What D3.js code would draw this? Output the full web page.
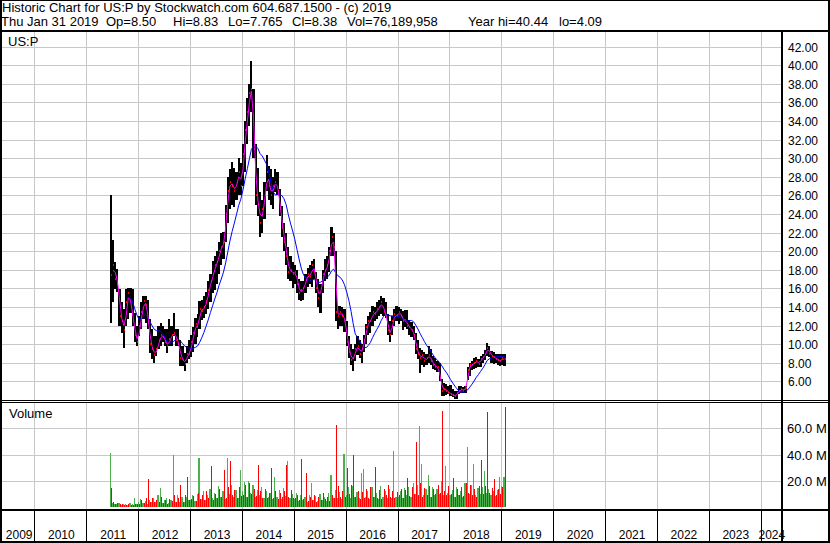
<!DOCTYPE html>
<html><head><meta charset="utf-8">
<script src="https://cdn.jsdelivr.net/npm/d3@7"></script>
<style>
html,body{margin:0;padding:0;background:#fff;}
svg{display:block;}
text{font-family:"Liberation Sans",Arial,sans-serif;fill:#000;}
</style></head><body>
<svg id="c" width="830" height="543"></svg>
<script>
// ---------- DATA (half-month periods starting 2011-06-16) ----------
const firstPeriod = "2011-06-16";
const highs = [
 26.0,21.2,18.8,18.1,15.9,14.5,13.8,15.9,16.1,16.1,15.9,13.4,12.0,
 13.0,14.5,15.2,15.2,14.8,12.7,11.6,10.9,10.9,12.0,12.3,12.0,11.6,11.6,12.7,12.0,13.4,11.6,11.6,10.5,9.8,9.1,9.8,10.5,
 11.0,11.8,12.8,13.2,14.6,14.8,15.2,15.6,16.8,17.6,19.0,19.5,20.0,21.0,22.0,22.1,25.0,28.0,28.8,29.6,29.0,28.5,30.0,29.5,
 31.5,34.0,36.5,38.0,40.44,37.5,31.5,29.0,26.4,25.5,27.4,30.3,29.2,28.9,28.0,28.9,28.5,26.7,24.9,23.0,22.0,20.5,19.5,18.8,
 18.5,18.0,17.0,16.8,16.8,17.5,18.2,18.5,19.0,19.2,17.8,17.0,16.5,18.0,19.2,19.5,20.5,22.6,22.0,20.0,14.1,14.1,14.0,13.8,
 12.5,10.9,10.0,9.5,10.0,10.9,10.5,10.0,11.0,12.2,13.0,13.5,14.1,14.0,14.5,14.8,15.2,15.0,14.5,13.2,12.5,13.0,13.8,14.1,
 14.0,13.8,13.6,13.7,13.7,12.6,12.4,12.0,11.2,10.5,9.6,9.4,9.2,9.0,9.8,9.5,8.7,8.5,8.2,8.0,6.3,5.8,5.7,5.5,
 5.6,5.2,5.0,5.0,5.5,5.5,5.4,5.5,7.5,8.0,8.2,8.5,8.6,8.4,8.7,9.0,9.4,10.1,9.8,9.3,9.2,9.0,9.0,8.9,
 8.9,8.9];
const lows = [
 12.3,14.5,15.9,15.6,12.0,11.2,9.6,12.0,12.7,13.4,12.0,10.2,9.8,
 10.9,11.6,12.7,12.3,11.6,9.1,8.4,8.0,8.7,9.5,9.8,10.2,9.8,9.1,9.8,9.8,10.9,9.8,9.8,7.7,7.7,7.1,8.0,8.4,
 8.6,9.2,10.0,10.8,11.6,12.6,12.8,13.2,13.8,14.5,15.5,15.8,16.5,17.5,18.5,19.2,21.0,23.0,24.5,25.0,24.8,25.5,26.0,26.0,
 27.0,28.5,31.5,33.5,35.0,30.0,25.0,23.8,21.5,22.0,23.5,26.5,25.5,25.0,24.5,26.4,26.0,23.8,21.5,20.0,18.5,17.0,16.8,16.0,
 16.5,15.5,14.8,14.7,14.8,15.5,16.2,16.5,16.2,17.0,15.5,14.0,13.4,15.5,16.8,17.0,17.8,19.5,19.5,12.5,11.6,12.0,12.0,11.3,
 9.8,8.5,7.8,7.1,8.2,8.8,8.5,8.0,9.2,10.0,11.0,11.2,12.0,12.5,12.7,13.0,13.2,13.0,12.8,11.0,10.2,11.0,12.0,12.5,
 12.2,12.5,11.5,11.8,11.6,11.0,10.8,10.5,9.0,8.4,6.9,7.8,7.6,7.8,8.0,7.8,7.3,7.2,7.0,6.0,4.4,4.4,4.5,4.6,
 4.4,4.3,4.1,4.1,4.6,4.7,4.7,4.8,6.2,6.6,7.2,7.3,7.4,7.5,7.6,8.0,8.3,8.7,8.6,8.0,7.9,8.0,7.8,7.7,
 7.8,7.7];
const closes = [
 17.4,18.5,17.0,16.5,13.0,12.5,11.5,14.5,15.5,14.0,12.5,11.0,10.2,
 12.0,13.5,14.6,14.2,12.3,10.0,9.5,8.8,9.5,10.4,11.0,10.8,10.2,9.8,10.6,11.0,11.2,10.5,10.0,8.5,8.3,7.9,9.0,8.9,
 10.2,11.2,12.2,11.8,13.8,13.6,14.0,14.6,15.8,16.8,17.5,18.5,18.8,20.0,20.5,21.0,24.0,26.5,27.5,27.0,26.5,27.5,28.5,27.0,
 30.5,33.0,35.0,37.0,37.5,31.0,26.0,25.0,23.0,24.5,26.0,28.5,27.0,26.0,27.0,27.5,26.5,24.5,22.5,21.0,19.5,17.8,18.0,17.5,
 17.8,16.5,15.5,15.8,16.0,17.0,17.5,17.2,18.5,17.8,16.0,15.0,16.0,17.5,18.0,18.5,20.0,21.5,20.5,13.5,13.0,13.5,13.0,12.5,
 10.2,9.2,8.3,8.5,9.5,9.8,9.0,9.5,10.5,11.8,12.5,12.5,13.5,13.2,13.8,14.0,14.5,13.5,13.0,11.5,11.0,12.5,13.2,13.0,
 13.5,13.0,12.5,12.6,12.0,11.8,11.5,11.0,9.5,9.0,8.5,8.8,8.2,8.5,8.8,8.2,7.8,7.6,7.5,6.3,5.0,5.2,5.0,4.8,
 4.6,4.5,4.4,4.8,5.0,5.2,5.0,5.3,7.2,7.8,7.8,8.0,8.2,7.9,8.4,8.6,9.0,9.6,9.0,8.7,8.6,8.4,8.3,8.2,
 8.5,8.38];
// largest daily volume (millions) among up days / down days of each period
const volUp = [
 41.5,3.0,2.5,2.0,2.8,1.8,2.0,2.5,1.5,3.0,2.5,7.0,2.2,
 3.5,6.0,3.0,4.5,2.5,5.5,3.8,7.0,4.0,9.0,14.5,3.0,5.0,6.5,2.8,5.5,40.0,4.0,9.5,3.5,7.5,4.0,8.0,5.0,
 5.0,9.5,4.5,10.0,37.5,6.0,12.0,5.5,9.0,14.0,6.5,11.0,7.0,16.0,8.0,12.5,6.0,37.5,10.0,17.0,7.5,13.0,6.5,28.0,
 12.0,19.0,8.0,20.0,11.0,17.0,7.5,13.0,9.0,15.0,6.5,12.0,8.0,11.0,6.0,23.0,7.5,13.0,6.0,14.5,8.5,35.0,7.0,10.0,
 6.0,10.5,4.5,9.0,5.0,8.0,4.0,9.5,18.7,5.0,8.5,4.5,10.0,5.5,8.0,4.5,11.0,24.5,6.5,13.0,7.0,11.5,6.0,40.7,
 9.0,15.0,7.0,16.0,8.0,11.5,6.5,26.0,29.0,8.0,12.5,6.0,15.0,7.5,11.0,6.0,16.0,8.0,12.0,7.0,13.5,6.5,43.0,8.0,
 8.0,12.0,7.0,14.5,9.0,15.0,7.5,18.0,10.0,17.0,62.0,33.0,9.0,14.0,24.5,8.0,15.5,9.0,14.0,10.0,20.0,9.5,31.0,11.0,
 9.0,13.0,8.0,15.5,9.5,12.5,8.0,18.0,46.0,10.0,17.0,33.0,9.0,14.5,10.0,15.0,27.5,11.0,14.0,9.0,12.0,8.5,13.0,23.0,
 16.0,23.0];
const volDown = [
 14.5,3.5,2.0,2.8,2.2,2.5,1.5,1.8,2.0,1.6,1.5,2.4,2.0,
 2.5,5.0,3.0,6.5,21.5,4.0,7.0,3.5,5.5,4.0,7.5,3.0,5.0,2.5,6.0,4.5,9.0,3.5,7.0,16.5,4.0,9.5,23.0,5.5,
 6.0,8.5,4.5,11.0,6.0,9.5,5.0,12.5,7.0,31.0,5.5,10.0,6.5,14.0,8.0,28.0,7.0,15.5,35.0,9.0,13.0,6.5,15.0,8.5,
 9.0,16.5,7.5,18.0,10.0,14.0,8.5,32.0,12.0,7.0,13.5,6.5,11.0,30.0,7.0,12.5,6.0,10.5,7.5,12.0,32.0,8.0,13.0,6.5,
 7.0,9.5,5.0,36.5,6.0,25.7,4.5,8.0,5.5,9.0,4.0,7.5,5.0,10.5,6.0,8.0,4.5,9.5,7.0,62.7,16.0,8.0,12.5,7.5,
 29.5,10.0,16.5,39.5,8.0,12.5,6.0,11.5,7.0,13.5,6.5,15.0,8.0,30.7,7.0,13.0,6.0,14.0,9.0,17.0,7.5,12.5,6.5,11.5,
 9.0,13.5,7.0,13.0,22.0,8.5,15.5,10.0,49.5,9.0,18.0,8.0,14.5,9.5,16.0,8.0,13.5,10.0,16.5,11.0,73.0,12.0,9.0,16.0,
 10.0,22.5,8.0,13.5,9.0,15.0,8.5,18.0,11.0,16.5,9.0,14.0,8.0,16.0,36.0,10.0,16.0,72.5,11.0,14.5,21.5,9.5,14.0,10.0,
 15.5,76.2];
const priceTicks = [6,8,10,12,14,16,18,20,22,24,26,28,30,32,34,36,38,40,42];
const volTicks = [20,40,60];
const yearLabels = [2009,2010,2011,2012,2013,2014,2015,2016,2017,2018,2019,2020,2021,2022,2023,2024];
const titleLine = "Historic Chart for US:P by Stockwatch.com 604.687.1500 - (c) 2019";
const quoteParts = ["Thu Jan 31 2019","Op=8.50","Hi=8.83","Lo=7.765","Cl=8.38","Vol=76,189,958","Year hi=40.44","lo=4.09"];
const quoteX = [1,106,173,228,292,347,468,559];
const symbol = "US:P";
const lastDay = "2019-01-31";
const shortMA = 2;   // periods (about 20 trading days)
const longMA = 10;   // periods (about 100 trading days)

// ---------- LAYOUT ----------
const W = 830, H = 543;
const plotL = 2, plotR = 781;
const priceTop = 32, priceBot = 400;
const volTop = 403, volBot = 509;
const axisTop = 511, axisBot = 541;

const svg = d3.select("#c");
const parse = d3.timeParse("%Y-%m-%d");

const x = d3.scaleTime().domain([new Date(2010,0,1), new Date(2024,0,1)]).range([34.4, 760.7]);
const yP = d3.scaleLinear().domain([4, 43.69]).range([400, 31]);
const yV = d3.scaleLinear().domain([0, 80.2]).range([507, 402]);

// periods
const p0 = parse(firstPeriod);
const starts = highs.map((_, i) => {
  const m = Math.floor((i + 1) / 2);
  return (i % 2 === 0) ? new Date(p0.getFullYear(), p0.getMonth() + m, 16)
                       : new Date(p0.getFullYear(), p0.getMonth() + m, 1);
});
const ends = starts.map((d, i) => i < starts.length - 1 ? starts[i + 1] : d3.timeDay.offset(parse(lastDay), 1));
const data = highs.map((h, i) => ({
  s: starts[i], e: ends[i], h, l: lows[i], c: closes[i], vu: volUp[i], vd: volDown[i]
}));

svg.append("rect").attr("width", W).attr("height", H).attr("fill", "#fff");

const defs = svg.append("defs");
defs.append("clipPath").attr("id", "cp").append("rect")
  .attr("x", plotL).attr("y", priceTop).attr("width", plotR - plotL).attr("height", priceBot - priceTop);
defs.append("clipPath").attr("id", "cv").append("rect")
  .attr("x", plotL).attr("y", volTop).attr("width", plotR - plotL).attr("height", volBot - volTop);

const grid = "#c8c8c8";
const years = d3.timeYear.range(new Date(2010,0,1), new Date(2024,0,2));

// price grid
const gp = svg.append("g").attr("clip-path", "url(#cp)").attr("shape-rendering", "crispEdges");
gp.selectAll("line.h").data(priceTicks).join("line")
  .attr("x1", plotL).attr("x2", plotR)
  .attr("y1", d => Math.round(yP(d)) + 0.5).attr("y2", d => Math.round(yP(d)) + 0.5)
  .attr("stroke", grid);
gp.selectAll("line.v").data(years).join("line")
  .attr("x1", d => Math.round(x(d)) + 0.5).attr("x2", d => Math.round(x(d)) + 0.5)
  .attr("y1", priceTop).attr("y2", priceBot).attr("stroke", grid);

// volume grid
const gv = svg.append("g").attr("clip-path", "url(#cv)").attr("shape-rendering", "crispEdges");
gv.selectAll("line.h").data(volTicks).join("line")
  .attr("x1", plotL).attr("x2", plotR)
  .attr("y1", d => Math.round(yV(d)) + 0.5).attr("y2", d => Math.round(yV(d)) + 0.5)
  .attr("stroke", grid);
gv.selectAll("line.v").data(years).join("line")
  .attr("x1", d => Math.round(x(d)) + 0.5).attr("x2", d => Math.round(x(d)) + 0.5)
  .attr("y1", volTop).attr("y2", volBot).attr("stroke", grid);

// price bars
const bars = svg.append("g").attr("clip-path", "url(#cp)").attr("shape-rendering", "crispEdges");
const bx0 = d => Math.round(x(d.s));
const bx1 = d => Math.round(x(d.e));
bars.selectAll("rect.b").data(data).join("rect")
  .attr("x", bx0).attr("width", d => Math.max(1, bx1(d) - bx0(d)))
  .attr("y", d => Math.round(yP(d.h))).attr("height", d => Math.max(1, Math.round(yP(d.l)) - Math.round(yP(d.h))))
  .attr("fill", "#000");
bars.selectAll("rect.c").data(data).join("rect")
  .attr("x", d => bx1(d) - 1).attr("width", 1)
  .attr("y", d => Math.round(yP(d.c)) - 1).attr("height", 2)
  .attr("fill", "#ff0000");

// moving averages
function sma(n) {
  return data.map((d, i) => i < n - 1 ? null : { s: d.s, e: d.e, v: d3.mean(closes.slice(i - n + 1, i + 1)) })
             .filter(Boolean);
}
const line = d3.line().x(d => (x(d.s) + x(d.e)) / 2).y(d => yP(d.v));
const gm = svg.append("g").attr("clip-path", "url(#cp)");
gm.append("path").attr("d", line(sma(longMA))).attr("fill", "none").attr("stroke", "#0000ff").attr("stroke-width", 1);
gm.append("path").attr("d", line(sma(shortMA))).attr("fill", "none").attr("stroke", "#ff00ff").attr("stroke-width", 1);

// volume bars
const vb = svg.append("g").attr("clip-path", "url(#cv)").attr("shape-rendering", "crispEdges");
vb.selectAll("rect.u").data(data).join("rect")
  .attr("x", bx0).attr("width", d => Math.ceil((bx1(d) - bx0(d)) / 2))
  .attr("y", d => Math.round(yV(d.vu))).attr("height", d => Math.round(yV(0)) - Math.round(yV(d.vu)))
  .attr("fill", "#4cb04c");
vb.selectAll("rect.d").data(data).join("rect")
  .attr("x", d => bx0(d) + Math.ceil((bx1(d) - bx0(d)) / 2)).attr("width", d => Math.max(1, Math.floor((bx1(d) - bx0(d)) / 2)))
  .attr("y", d => Math.round(yV(d.vd))).attr("height", d => Math.round(yV(0)) - Math.round(yV(d.vd)))
  .attr("fill", "#ff0000");

// frame lines
const blk = (x0, y0, w, h) => svg.append("rect").attr("x", x0).attr("y", y0).attr("width", w).attr("height", h)
  .attr("fill", "#000").attr("shape-rendering", "crispEdges");
blk(0, 0, W, 1);
blk(0, 0, 2, H);
blk(0, 30, W, 2);
blk(plotR, 32, 2, axisBot - 32);
blk(0, 400, W, 1);
blk(0, 402, W, 1);
blk(0, volBot, W, 2);
blk(0, axisBot, W, 2);
blk(828, 0, 2, H);

// x axis separators and labels
const ax = svg.append("g").attr("shape-rendering", "crispEdges");
ax.selectAll("rect").data(years).join("rect")
  .attr("x", d => Math.round(x(d))).attr("y", axisTop).attr("width", 1).attr("height", axisBot - axisTop)
  .attr("fill", "#000");
svg.append("g").selectAll("text").data(yearLabels).join("text")
  .attr("x", d => {
    const a = Math.max(plotL, x(new Date(d, 0, 1)));
    const b = Math.min(plotR, x(new Date(d + 1, 0, 1)));
    return (a + b) / 2 + 1;
  })
  .attr("y", 539).attr("text-anchor", "middle").attr("font-size", 12)
  .text(d => d);

// right price labels
svg.append("g").selectAll("text").data(priceTicks).join("text")
  .attr("x", 788).attr("y", d => yP(d) + 5).attr("font-size", 12)
  .text(d => d3.format(".2f")(d));
// right volume labels
svg.append("g").selectAll("text").data(volTicks).join("text")
  .attr("x", 787).attr("y", d => yV(d) + 5).attr("font-size", 13)
  .text(d => d3.format(".1f")(d) + " M");

// header
svg.append("text").attr("x", 2).attr("y", 12).attr("font-size", 13).text(titleLine);
svg.append("g").selectAll("text").data(quoteParts).join("text")
  .attr("x", (d, i) => quoteX[i]).attr("y", 26).attr("font-size", 13).text(d => d);

svg.append("text").attr("x", 8).attr("y", 46).attr("font-size", 13).text(symbol);
svg.append("text").attr("x", 9).attr("y", 418).attr("font-size", 13).text("Volume");
</script>
</body></html>
